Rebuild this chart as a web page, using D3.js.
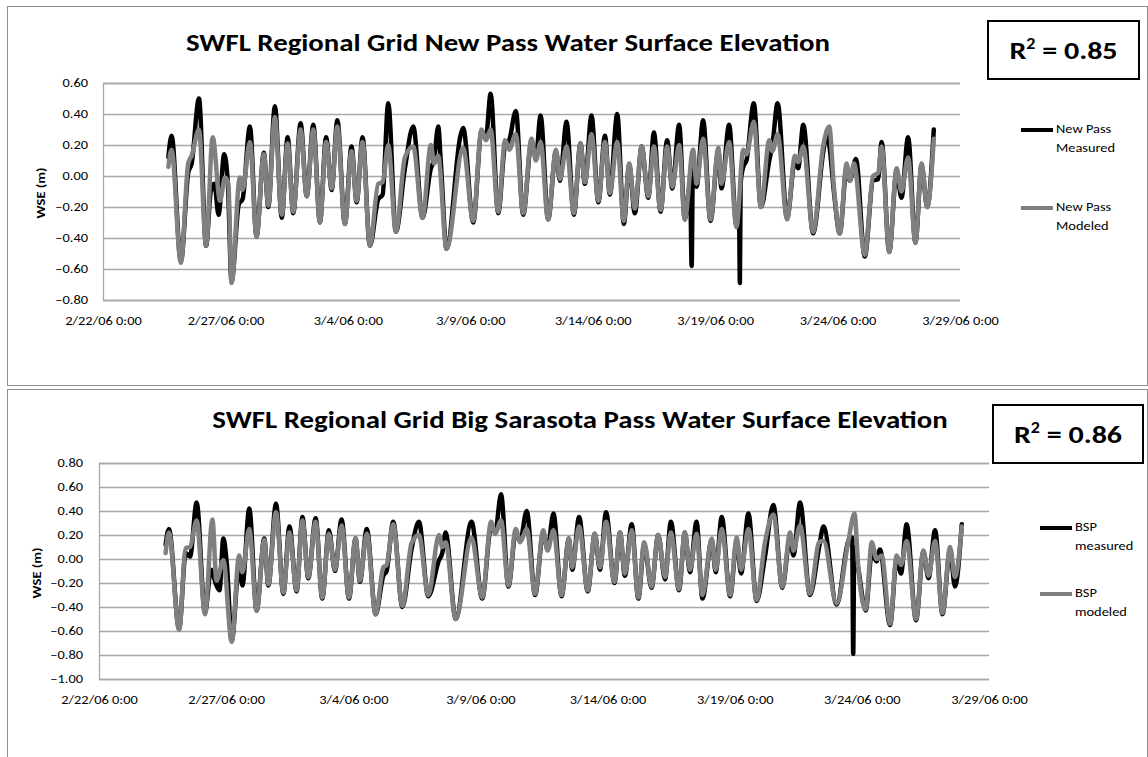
<!DOCTYPE html>
<html><head><meta charset="utf-8">
<script src="https://cdn.jsdelivr.net/npm/d3@7"></script>
<style>body{margin:0;background:#fff}svg{display:block}</style>
</head><body><svg id="c" width="1148" height="757"></svg>
<script>
// ---- data (day offset from 2/22/06 0:00, WSE in m) ----
const xTickLabels = ["2/22/06 0:00","2/27/06 0:00","3/4/06 0:00","3/9/06 0:00","3/14/06 0:00","3/19/06 0:00","3/24/06 0:00","3/29/06 0:00"];
const xTickDays = [0,5,10,15,20,25,30,35];
const yTicksNP = [0.6,0.4,0.2,0,-0.2,-0.4,-0.6,-0.8];
const yTicksBSP = [0.8,0.6,0.4,0.2,0,-0.2,-0.4,-0.6,-0.8,-1.0];

const npMeasured = [[2.67,0.12],[2.80,0.26],[3.18,-0.55],[3.48,0.02],[3.62,0.08],[3.92,0.50],[4.21,-0.45],[4.40,-0.10],[4.55,-0.05],[4.72,-0.25],[4.95,0.14],[5.10,-0.05],[5.25,-0.68],[5.55,-0.18],[5.70,-0.15],[6.00,0.32],[6.27,-0.39],[6.57,0.15],[6.75,-0.20],[7.02,0.45],[7.30,-0.27],[7.54,0.25],[7.77,-0.24],[8.07,0.34],[8.32,-0.13],[8.59,0.33],[8.86,-0.30],[9.11,0.25],[9.34,-0.09],[9.57,0.36],[9.88,-0.31],[10.15,0.19],[10.36,-0.17],[10.60,0.25],[10.90,-0.45],[11.24,-0.15],[11.42,-0.12],[11.65,0.47],[11.96,-0.36],[12.33,0.05],[12.67,0.32],[13.05,-0.27],[13.39,0.05],[13.52,0.10],[13.69,0.32],[13.80,0.08],[14.03,-0.47],[14.60,0.26],[14.71,0.31],[15.12,-0.30],[15.46,0.29],[15.64,0.25],[15.83,0.53],[16.14,-0.24],[16.42,0.20],[16.59,0.23],[16.86,0.42],[17.16,-0.25],[17.50,0.22],[17.68,0.12],[17.87,0.39],[18.18,-0.28],[18.50,0.16],[18.66,-0.03],[18.93,0.35],[19.23,-0.25],[19.50,0.21],[19.68,-0.05],[19.95,0.39],[20.23,-0.17],[20.50,0.26],[20.70,-0.12],[21.00,0.40],[21.27,-0.31],[21.49,0.07],[21.72,-0.24],[22.00,0.19],[22.27,-0.14],[22.50,0.28],[22.77,-0.23],[23.04,0.23],[23.25,-0.08],[23.53,0.33],[23.76,-0.28],[23.98,-0.05],[24.04,-0.58],[24.09,0.05],[24.24,-0.07],[24.51,0.36],[24.81,-0.29],[25.13,0.16],[25.26,-0.08],[25.57,0.33],[25.87,-0.32],[25.98,-0.30],[26.01,-0.69],[26.04,-0.05],[26.15,0.06],[26.28,0.10],[26.58,0.47],[26.87,-0.20],[27.21,0.10],[27.34,0.20],[27.55,0.47],[27.94,-0.27],[28.26,0.10],[28.39,0.05],[28.60,0.33],[29.00,-0.37],[29.41,0.15],[29.55,0.27],[29.66,0.20],[29.85,-0.10],[30.09,-0.37],[30.37,0.05],[30.50,-0.03],[30.75,0.11],[31.11,-0.52],[31.45,-0.03],[31.66,-0.02],[31.80,0.22],[32.11,-0.49],[32.41,0.03],[32.61,-0.14],[32.88,0.25],[33.18,-0.43],[33.43,0.07],[33.66,-0.20],[33.93,0.30]];

const npModeled = [[2.67,0.06],[2.80,0.17],[3.18,-0.56],[3.48,0.08],[3.62,0.13],[3.92,0.30],[4.21,-0.45],[4.48,0.25],[4.78,-0.16],[4.98,-0.01],[5.12,-0.05],[5.25,-0.69],[5.59,-0.01],[5.70,-0.09],[6.00,0.22],[6.27,-0.39],[6.57,0.14],[6.75,-0.19],[7.02,0.38],[7.30,-0.25],[7.54,0.21],[7.77,-0.23],[8.07,0.30],[8.32,-0.13],[8.59,0.30],[8.86,-0.30],[9.11,0.22],[9.34,-0.08],[9.57,0.32],[9.88,-0.31],[10.15,0.16],[10.36,-0.16],[10.60,0.22],[10.90,-0.45],[11.24,-0.05],[11.42,-0.04],[11.65,0.20],[11.96,-0.36],[12.33,0.12],[12.67,0.19],[13.05,-0.27],[13.39,0.20],[13.52,0.08],[13.69,0.13],[14.03,-0.47],[14.71,0.18],[15.12,-0.29],[15.46,0.30],[15.64,0.23],[15.83,0.30],[16.14,-0.23],[16.42,0.23],[16.59,0.17],[16.86,0.27],[17.16,-0.24],[17.50,0.24],[17.68,0.10],[17.87,0.22],[18.18,-0.28],[18.50,0.17],[18.66,-0.02],[18.93,0.19],[19.23,-0.24],[19.50,0.21],[19.68,-0.04],[19.95,0.27],[20.23,-0.16],[20.50,0.22],[20.70,-0.11],[21.00,0.22],[21.27,-0.29],[21.49,0.08],[21.72,-0.21],[22.00,0.19],[22.27,-0.13],[22.50,0.19],[22.77,-0.22],[23.04,0.19],[23.25,-0.07],[23.53,0.20],[23.76,-0.28],[24.10,0.17],[24.24,-0.05],[24.51,0.24],[24.81,-0.28],[25.13,0.18],[25.26,-0.05],[25.57,0.22],[25.87,-0.33],[26.15,0.17],[26.28,0.14],[26.58,0.35],[26.87,-0.20],[27.21,0.23],[27.34,0.16],[27.55,0.27],[27.94,-0.28],[28.26,0.13],[28.39,0.09],[28.60,0.19],[29.00,-0.36],[29.41,0.19],[29.66,0.32],[29.85,-0.07],[30.09,-0.37],[30.37,0.08],[30.50,-0.03],[30.67,0.08],[31.11,-0.51],[31.45,0.00],[31.66,0.02],[31.80,0.19],[32.11,-0.49],[32.41,0.05],[32.61,-0.10],[32.88,0.12],[33.18,-0.43],[33.43,0.08],[33.66,-0.20],[33.93,0.24]];

const bspMeasured = [[2.62,0.12],[2.75,0.25],[3.15,-0.58],[3.41,0.05],[3.58,0.02],[3.84,0.47],[4.17,-0.45],[4.40,-0.09],[4.62,-0.22],[4.74,-0.26],[4.89,0.17],[5.03,-0.05],[5.22,-0.68],[5.51,-0.05],[5.64,-0.22],[5.91,0.42],[6.20,-0.43],[6.50,0.17],[6.66,-0.22],[6.96,0.46],[7.25,-0.29],[7.49,0.27],[7.77,-0.27],[8.00,0.35],[8.23,-0.16],[8.52,0.34],[8.78,-0.33],[9.04,0.24],[9.28,-0.10],[9.54,0.33],[9.83,-0.33],[10.09,0.17],[10.26,-0.19],[10.53,0.25],[10.88,-0.46],[11.18,-0.14],[11.31,-0.10],[11.57,0.31],[11.93,-0.40],[12.29,0.08],[12.58,0.31],[12.95,-0.31],[13.37,-0.01],[13.50,0.05],[13.63,0.22],[14.03,-0.50],[14.65,0.31],[15.07,-0.33],[15.42,0.27],[15.58,0.22],[15.81,0.54],[16.10,-0.23],[16.39,0.22],[16.56,0.15],[16.82,0.40],[17.15,-0.30],[17.47,0.22],[17.64,0.08],[17.87,0.38],[18.19,-0.31],[18.48,0.17],[18.61,-0.09],[18.88,0.35],[19.22,-0.27],[19.50,0.21],[19.70,-0.09],[19.94,0.39],[20.27,-0.20],[20.49,0.22],[20.68,-0.14],[20.95,0.29],[21.21,-0.33],[21.44,0.12],[21.73,-0.24],[21.99,0.20],[22.26,-0.17],[22.49,0.31],[22.81,-0.26],[23.04,0.22],[23.24,-0.11],[23.50,0.31],[23.73,-0.33],[24.10,0.16],[24.25,-0.11],[24.49,0.35],[24.82,-0.31],[25.08,0.15],[25.25,-0.12],[25.54,0.38],[25.86,-0.35],[26.19,0.02],[26.52,0.45],[26.87,-0.24],[27.18,0.18],[27.31,0.03],[27.57,0.47],[27.96,-0.30],[28.32,0.10],[28.49,0.27],[29.01,-0.38],[29.47,0.15],[29.62,0.18],[29.66,-0.79],[29.70,0.10],[29.86,-0.08],[30.15,-0.43],[30.39,0.05],[30.58,-0.02],[30.71,0.08],[31.11,-0.55],[31.37,0.00],[31.54,-0.12],[31.76,0.29],[32.13,-0.51],[32.42,0.06],[32.62,-0.16],[32.88,0.24],[33.17,-0.46],[33.47,0.08],[33.66,-0.23],[33.93,0.29]];

const bspModeled = [[2.62,0.05],[2.75,0.22],[3.15,-0.59],[3.41,0.09],[3.58,0.10],[3.84,0.32],[4.17,-0.46],[4.46,0.33],[4.62,-0.18],[4.89,-0.01],[5.22,-0.69],[5.51,0.03],[5.64,-0.11],[5.91,0.25],[6.20,-0.43],[6.50,0.16],[6.66,-0.21],[6.96,0.39],[7.25,-0.28],[7.49,0.22],[7.77,-0.26],[8.00,0.32],[8.23,-0.15],[8.52,0.31],[8.78,-0.32],[9.04,0.21],[9.28,-0.09],[9.54,0.28],[9.83,-0.32],[10.09,0.17],[10.26,-0.18],[10.53,0.21],[10.88,-0.46],[11.18,-0.07],[11.31,-0.05],[11.57,0.29],[11.93,-0.39],[12.29,0.13],[12.58,0.20],[12.95,-0.30],[13.37,0.20],[13.50,0.10],[13.63,0.14],[14.03,-0.50],[14.65,0.18],[15.07,-0.32],[15.42,0.31],[15.58,0.21],[15.81,0.32],[16.10,-0.22],[16.39,0.25],[16.56,0.14],[16.82,0.25],[17.15,-0.29],[17.47,0.24],[17.64,0.07],[17.87,0.24],[18.19,-0.30],[18.48,0.17],[18.61,-0.07],[18.88,0.27],[19.22,-0.26],[19.50,0.21],[19.70,-0.07],[19.94,0.31],[20.27,-0.19],[20.49,0.22],[20.68,-0.12],[20.95,0.24],[21.21,-0.32],[21.44,0.14],[21.73,-0.23],[21.99,0.20],[22.26,-0.15],[22.49,0.22],[22.81,-0.25],[23.04,0.22],[23.24,-0.09],[23.50,0.21],[23.73,-0.30],[24.10,0.17],[24.25,-0.09],[24.49,0.25],[24.82,-0.30],[25.08,0.18],[25.25,-0.09],[25.54,0.25],[25.86,-0.34],[26.19,0.14],[26.52,0.37],[26.87,-0.23],[27.18,0.22],[27.31,0.07],[27.57,0.28],[27.96,-0.29],[28.32,0.14],[28.49,0.15],[29.01,-0.37],[29.47,0.15],[29.71,0.38],[29.86,-0.07],[30.15,-0.42],[30.39,0.14],[30.58,0.00],[30.78,0.03],[31.11,-0.54],[31.37,0.03],[31.54,-0.05],[31.76,0.15],[32.13,-0.50],[32.42,0.07],[32.62,-0.14],[32.88,0.15],[33.17,-0.45],[33.47,0.10],[33.66,-0.15],[33.93,0.27]];

const titles = ["SWFL Regional Grid New Pass Water Surface Elevation","SWFL Regional Grid Big Sarasota Pass Water Surface Elevation"];
const r2Values = ["0.85","0.86"];
const legendNP = [["New Pass","Measured"],["New Pass","Modeled"]];
const legendBSP = [["BSP","measured"],["BSP","modeled"]];

// ---- drawing ----
const FONT = "Calibri, Carlito, Lato, 'Open Sans', sans-serif";
const STRETCH = 1.2;
const start = new Date(2006,1,22);
const toDate = d => new Date(start.getTime() + d*864e5);
const svg = d3.select("#c");

function panel(cfg){
  const g = svg.append("g");
  g.append("rect").attr("x",cfg.frame[0]+0.5).attr("y",cfg.frame[1]+0.5).attr("width",cfg.frame[2]).attr("height",cfg.frame[3])
    .attr("fill","#fff").attr("stroke","#8e8e8e").attr("stroke-width",1);
  const x = d3.scaleTime().domain([toDate(0),toDate(35)]).range([cfg.l,cfg.r]);
  const y = d3.scaleLinear().domain(cfg.yDomain).range([cfg.b,cfg.t]);
  const yAxis = d3.axisLeft(y).tickValues(cfg.yTicks).tickSize(-(cfg.r-cfg.l)).tickPadding(cfg.tickPad).tickFormat(d3.format(".2f"));
  const ya = g.append("g").attr("transform",`translate(${cfg.l},0)`).call(yAxis);
  ya.select(".domain").attr("stroke","#a8a8a8").attr("stroke-width",1.3);
  ya.selectAll(".tick line").attr("stroke","#a8a8a8").attr("stroke-width",1.3);
  ya.selectAll(".tick text").attr("font-family",FONT).attr("font-size",12).attr("fill","#000");
  const xAxis = d3.axisBottom(x).tickValues(xTickDays.map(toDate)).tickSize(0).tickPadding(16)
    .tickFormat((d,i)=>xTickLabels[i]);
  const xa = g.append("g").attr("transform",`translate(0,${cfg.b})`).call(xAxis);
  xa.select(".domain").remove();
  xa.selectAll(".tick text").attr("font-family",FONT).attr("font-size",12).attr("fill","#000");
  const line = d3.line().x(d=>x(toDate(d[0]))).y(d=>y(d[1])).curve(d3.curveMonotoneX);
  g.append("path").datum(cfg.measured).attr("d",line).attr("fill","none").attr("stroke","#000")
    .attr("stroke-width",4.5).attr("stroke-linejoin","round").attr("stroke-linecap","round");
  g.append("path").datum(cfg.modeled).attr("d",line).attr("fill","none").attr("stroke","#808080")
    .attr("stroke-width",4.5).attr("stroke-linejoin","round").attr("stroke-linecap","round");
  g.append("text").attr("x",cfg.titleX).attr("y",cfg.titleY).attr("text-anchor","middle")
    .attr("font-family",FONT).attr("font-weight","bold").attr("font-size",24).text(cfg.title);
  g.append("text").attr("transform",`translate(${cfg.ylabX},${cfg.ylabY}) rotate(-90)`).attr("text-anchor","middle")
    .attr("dominant-baseline","middle").attr("font-family",FONT).attr("font-weight","bold").attr("font-size",12).text("WSE (m)");
  const bx = cfg.r2box;
  g.append("rect").attr("x",bx[0]).attr("y",bx[1]).attr("width",bx[2]).attr("height",bx[3]).attr("fill","#fff")
    .attr("stroke","#000").attr("stroke-width",2);
  const rt = g.append("text").attr("x",bx[0]+bx[2]/2).attr("y",bx[1]+bx[3]/2+9).attr("text-anchor","middle")
    .attr("font-family",FONT).attr("font-weight","bold").attr("font-size",25);
  rt.append("tspan").text("R");
  rt.append("tspan").attr("font-size",15).attr("dy",-10).text("2");
  rt.append("tspan").attr("dy",10).text(" = "+cfg.r2);
  cfg.legend.forEach((lab,i)=>{
    const ly = cfg.legY[i];
    g.append("line").attr("x1",cfg.legX).attr("x2",cfg.legX+32).attr("y1",ly).attr("y2",ly)
      .attr("stroke",i===0?"#000":"#808080").attr("stroke-width",4);
    lab.forEach((t,j)=>{
      g.append("text").attr("x",cfg.legX+35).attr("y",ly+j*19).attr("dominant-baseline","middle")
        .attr("font-family",FONT).attr("font-size",12).attr("fill","#000").text(t);
    });
  });
}

panel({frame:[7,6,1140,379], l:103, r:960, t:83, b:300, yDomain:[-0.8,0.6], yTicks:yTicksNP, tickPad:15,
  measured:npMeasured, modeled:npModeled, title:titles[0], titleX:508, titleY:51, ylabX:42, ylabY:193,
  r2box:[988,21,151,58], r2:r2Values[0], legend:legendNP, legX:1021, legY:[130,208]});
panel({frame:[7,389,1140,380], l:99, r:989, t:463, b:679, yDomain:[-1.0,0.8], yTicks:yTicksBSP, tickPad:16,
  measured:bspMeasured, modeled:bspModeled, title:titles[1], titleX:580, titleY:428, ylabX:38, ylabY:573,
  r2box:[993,405,150,58], r2:r2Values[1], legend:legendBSP, legX:1040, legY:[528,594]});

// the source rendering is horizontally wide: widen every text run
svg.selectAll("text").each(function(){
  const w = this.getComputedTextLength();
  this.setAttribute("textLength", (w*STRETCH).toFixed(1));
  this.setAttribute("lengthAdjust","spacingAndGlyphs");
});
</script></body></html>
